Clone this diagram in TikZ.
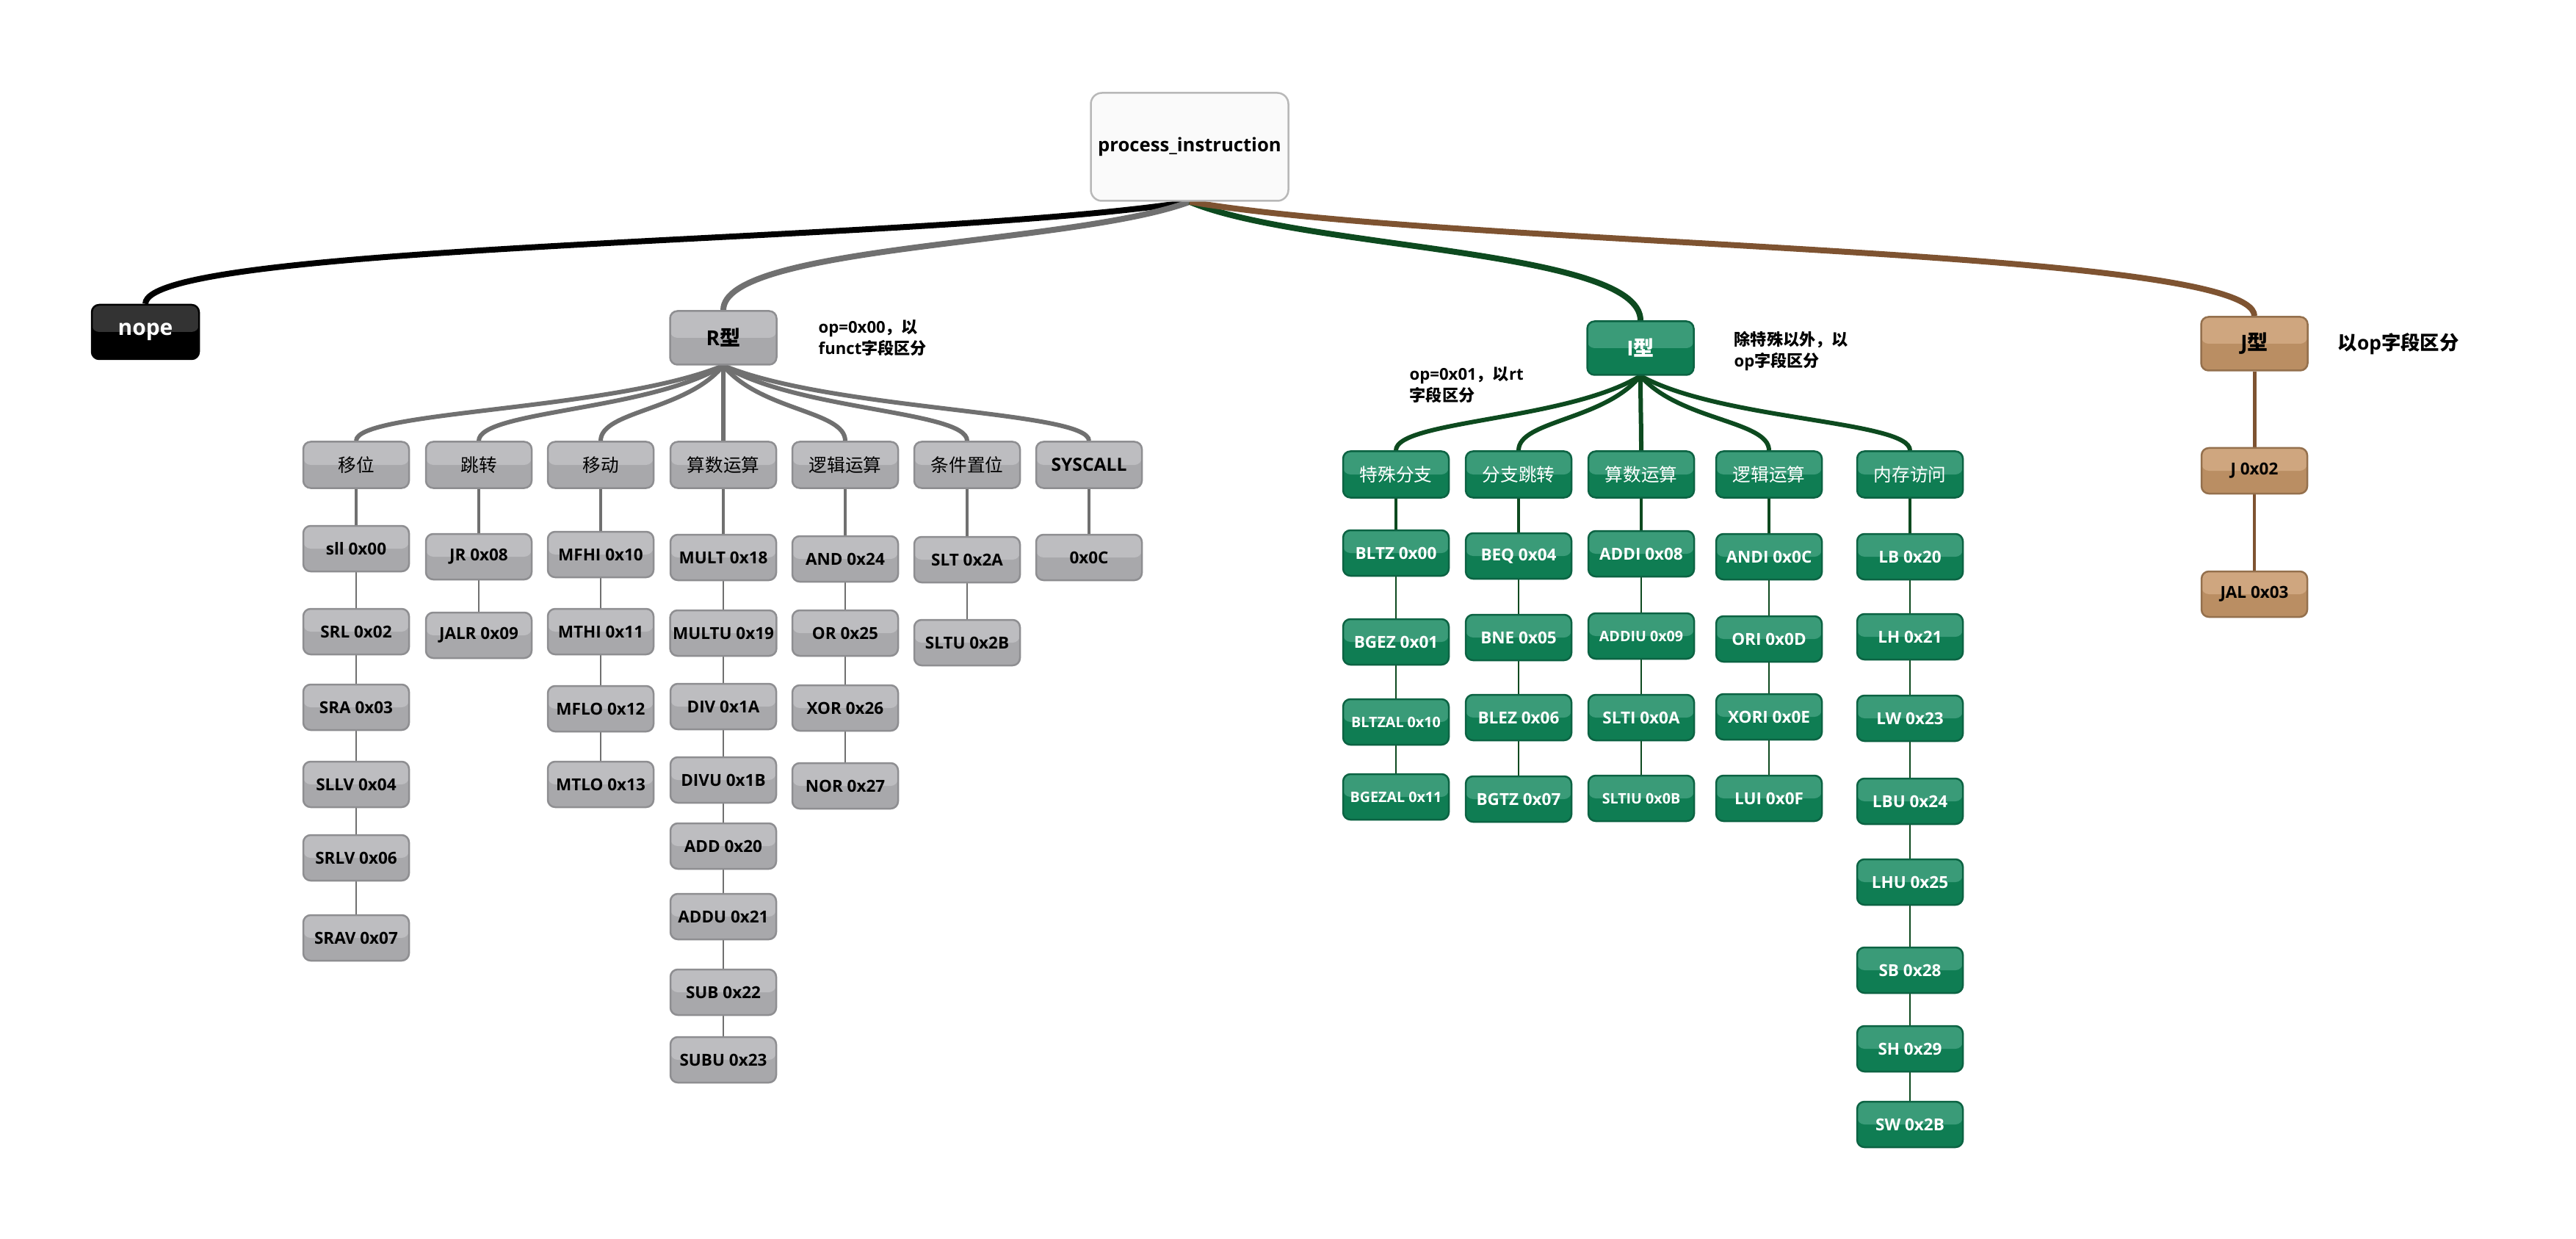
\documentclass[tikz,border=0pt]{standalone}
\usepackage{fontspec}
\setmainfont{Open Sans}
\newfontfamily\cjk{Noto Sans CJK SC}
\usetikzlibrary{calc,backgrounds}
\newcommand\zh[1]{{\cjk #1}}
\newcommand\sm[1]{{\fontsize{5.6}{6}\selectfont #1}}
\definecolor{cGrayT}{HTML}{BDBDC0}
\definecolor{cGrayB}{HTML}{A8A8AB}
\definecolor{cGrayD}{HTML}{8E8E91}
\definecolor{cGrayL}{HTML}{707070}
\definecolor{cGrnT} {HTML}{3A9B78}
\definecolor{cGrnB} {HTML}{0F7D53}
\definecolor{cGrnD} {HTML}{0C6343}
\definecolor{cGrnL} {HTML}{0D4A1F}
\definecolor{cBrnT} {HTML}{CFA67F}
\definecolor{cBrnB} {HTML}{BA8E63}
\definecolor{cBrnD} {HTML}{94704D}
\definecolor{cBrnL} {HTML}{7E5331}
\tikzset{
  box/.style  ={rounded corners=1mm,line width=0.25mm,minimum width=14.4mm,
                minimum height=6.2mm,inner sep=1pt,align=center,
                font=\bfseries\fontsize{6.4}{7}\selectfont},
  duo/.style 2 args={fill=#2,path picture={\fill[#1]
                (path picture bounding box.north west) rectangle
                (path picture bounding box.east);}},
  rbox/.style ={box,draw=cGrayD,duo={cGrayT}{cGrayB},text=black},
  ibox/.style ={box,draw=cGrnD,duo={cGrnT}{cGrnB},text=white},
  jbox/.style ={box,draw=cBrnD,duo={cBrnT}{cBrnB},text=black},
  nbox/.style ={box,draw=black,duo={black!80}{black},text=white,
                minimum width=14.6mm,minimum height=7.4mm,
                font=\bfseries\fontsize{8.5}{10}\selectfont},
  root/.style ={box,draw=black!28,fill=black!2,rounded corners=1.5mm,
                minimum width=26.9mm,minimum height=14.7mm,
                font=\bfseries\fontsize{7.3}{9}\selectfont},
  hd/.style   ={minimum width=14.5mm,minimum height=7.3mm,
                font=\bfseries\fontsize{8}{9}\selectfont},
  cat/.style  ={minimum height=6.3mm,font=\fontsize{7}{8}\selectfont},
  note/.style ={anchor=west,align=left,inner sep=0pt,
                font=\bfseries\fontsize{6.3}{8.2}\selectfont},
  trunk/.style ={line width=0.8mm},
  branch/.style={line width=0.6mm},
  stem/.style  ={line width=0.32mm},
  twig/.style  ={line width=0.2mm},
}
% curved link: parent bottom -> child top
\newcommand\lnk[5]{%
  \path ($(#2.south)!#4!(#3.north)$) coordinate (lA)
        ($(#2.south)!#5!(#3.north)$) coordinate (lB);
  \draw[#1] (#2.south) .. controls (lA |- lB) and (#3.north |- lB) .. (#3.north);}

\begin{document}
\begin{tikzpicture}[x=1mm,y=1mm]
\useasboundingbox (0,0) rectangle (350.8,-168.7);

% ---------------- top levels ---------------------------------------------
\node[root] (root) at (162.0,-20.0) {process\_instruction};
\node[nbox] (nope) at (19.8,-45.2) {nope};
\node[rbox,hd] (rtype) at (98.5,-46.0) {R\zh{型}};
\node[ibox,hd] (itype) at (223.4,-47.4) {I\zh{型}};
\node[jbox,hd] (jtype) at (307.0,-46.8) {J\zh{型}};

\node[note] (rnote) at (111.4,-46.0) {op=0x00\zh{，以}\\funct\zh{字段区分}};
\node[note] (inote) at (191.9,-52.4) {op=0x01\zh{，以}rt\\\zh{字段区分}};
\node[note] (enote) at (236.1,-47.8) {\zh{除特殊以外，以}\\op\zh{字段区分}};
\node[note,font=\bfseries\fontsize{7.5}{9}\selectfont] (jnote) at (318.3,-46.8)
  {\zh{以}op\zh{字段区分}};

% ---------------- R type -------------------------------------------------
\foreach \c/\x/\t in {1/48.5/\zh{移位},2/65.2/\zh{跳转},3/81.8/\zh{移动},
  4/98.5/\zh{算数运算},5/115.1/\zh{逻辑运算},6/131.7/\zh{条件置位},
  7/148.3/\textbf{SYSCALL}}
  {\node[rbox,cat] (rc\c) at (\x,-63.3) {\t};}
\foreach \i/\y/\t in {1/-74.7/sll 0x00,2/-86.0/SRL 0x02,3/-96.3/SRA 0x03,
  4/-106.8/SLLV 0x04,5/-116.8/SRLV 0x06,6/-127.7/SRAV 0x07}
  {\node[rbox] (r1-\i) at (48.5,\y) {\t};}
\foreach \i/\y/\t in {1/-75.8/JR 0x08,2/-86.5/JALR 0x09}
  {\node[rbox] (r2-\i) at (65.2,\y) {\t};}
\foreach \i/\y/\t in {1/-75.5/MFHI 0x10,2/-86.0/MTHI 0x11,3/-96.5/MFLO 0x12,
  4/-106.8/MTLO 0x13}
  {\node[rbox] (r3-\i) at (81.8,\y) {\t};}
\foreach \i/\y/\t in {1/-75.9/MULT 0x18,2/-86.2/MULTU 0x19,3/-96.2/DIV 0x1A,
  4/-106.2/DIVU 0x1B,5/-115.2/ADD 0x20,6/-124.8/ADDU 0x21,7/-135.1/SUB 0x22,
  8/-144.3/SUBU 0x23}
  {\node[rbox] (r4-\i) at (98.5,\y) {\t};}
\foreach \i/\y/\t in {1/-76.1/AND 0x24,2/-86.2/OR 0x25,3/-96.4/XOR 0x26,
  4/-107.0/NOR 0x27}
  {\node[rbox] (r5-\i) at (115.1,\y) {\t};}
\foreach \i/\y/\t in {1/-76.2/SLT 0x2A,2/-87.5/SLTU 0x2B}
  {\node[rbox] (r6-\i) at (131.7,\y) {\t};}
\node[rbox] (r7-1) at (148.3,-75.9) {0x0C};

% ---------------- I type -------------------------------------------------
\foreach \c/\x/\t in {1/190.1/\zh{特殊分支},2/206.8/\zh{分支跳转},
  3/223.5/\zh{算数运算},4/240.9/\zh{逻辑运算},5/260.1/\zh{内存访问}}
  {\node[ibox,cat] (ic\c) at (\x,-64.6) {\t};}
\foreach \i/\y/\t in {1/-75.3/BLTZ 0x00,2/-87.4/BGEZ 0x01,
  3/-98.3/\sm{BLTZAL 0x10},4/-108.5/\sm{BGEZAL 0x11}}
  {\node[ibox] (i1-\i) at (190.1,\y) {\t};}
\foreach \i/\y/\t in {1/-75.7/BEQ 0x04,2/-86.8/BNE 0x05,3/-97.7/BLEZ 0x06,
  4/-108.8/BGTZ 0x07}
  {\node[ibox] (i2-\i) at (206.8,\y) {\t};}
\foreach \i/\y/\t in {1/-75.4/ADDI 0x08,2/-86.6/\sm{ADDIU 0x09},
  3/-97.7/SLTI 0x0A,4/-108.7/\sm{SLTIU 0x0B}}
  {\node[ibox] (i3-\i) at (223.5,\y) {\t};}
\foreach \i/\y/\t in {1/-75.8/ANDI 0x0C,2/-87.0/ORI 0x0D,3/-97.6/XORI 0x0E,
  4/-108.7/LUI 0x0F}
  {\node[ibox] (i4-\i) at (240.9,\y) {\t};}
\foreach \i/\y/\t in {1/-75.8/LB 0x20,2/-86.7/LH 0x21,3/-97.8/LW 0x23,
  4/-109.1/LBU 0x24,5/-120.1/LHU 0x25,6/-132.1/SB 0x28,7/-142.8/SH 0x29,
  8/-153.1/SW 0x2B}
  {\node[ibox] (i5-\i) at (260.1,\y) {\t};}

% ---------------- J type -------------------------------------------------
\node[jbox] (j1) at (307.0,-64.1) {J 0x02};
\node[jbox] (j2) at (307.0,-80.9) {JAL 0x03};

% ---------------- links --------------------------------------------------
\begin{scope}[on background layer]
\fill[white] (0,0) rectangle (350.8,-168.7);
\lnk{trunk,draw=black}{root}{nope}{.25}{.4}
\lnk{trunk,draw=cGrayL}{root}{rtype}{.25}{.4}
\lnk{trunk,draw=cGrnL}{root}{itype}{.25}{.4}
\lnk{trunk,draw=cBrnL}{root}{jtype}{.25}{.4}
\foreach \c in {1,...,7}{\lnk{branch,draw=cGrayL}{rtype}{rc\c}{.3}{.6}
  \draw[stem,draw=cGrayL] (rc\c.south) -- (r\c-1.north);}
\foreach \c in {1,...,5}{\lnk{branch,draw=cGrnL}{itype}{ic\c}{.3}{.6}
  \draw[stem,draw=cGrnL] (ic\c.south) -- (i\c-1.north);}
\foreach \c/\n in {1/6,2/2,3/4,4/8,5/4,6/2}
  \foreach \i in {2,...,\n}
    {\pgfmathtruncatemacro\h{\i-1}\draw[twig,draw=cGrayL] (r\c-\h.south) -- (r\c-\i.north);}
\foreach \c/\n in {1/4,2/4,3/4,4/4,5/8}
  \foreach \i in {2,...,\n}
    {\pgfmathtruncatemacro\h{\i-1}\draw[twig,draw=cGrnL] (i\c-\h.south) -- (i\c-\i.north);}
\draw[line width=0.5mm,draw=cBrnL] (jtype.south) -- (j1.north);
\draw[line width=0.4mm,draw=cBrnL] (j1.south) -- (j2.north);
\end{scope}
\end{tikzpicture}
\end{document}
